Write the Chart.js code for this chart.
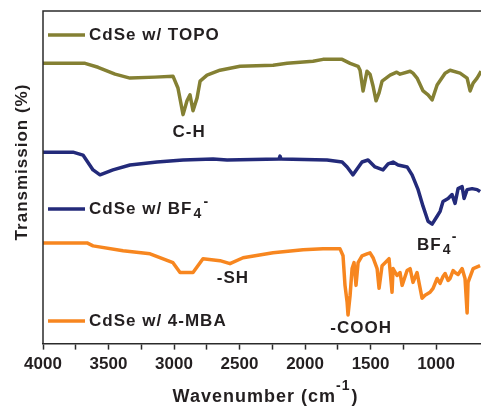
<!DOCTYPE html>
<html>
<head>
<meta charset="utf-8">
<script src="https://cdn.jsdelivr.net/npm/chart.js@4.4.1/dist/chart.umd.min.js"></script>
<style>
  html, body { margin: 0; padding: 0; background: #fff; overflow: hidden; }
  #wrap { width: 481px; height: 406px; position: relative; }
</style>
</head>
<body>
<div id="wrap"><canvas id="ftir"></canvas></div>
<script>
/* ================== DATA ================== */
// wavenumber (cm-1) and offset transmission
const topoWn = [4000, 3679, 3580, 3450, 3336, 3145, 3008, 2970, 2931, 2901, 2878, 2855, 2824, 2801, 2748, 2649, 2496, 2244, 2137, 1939, 1863, 1717, 1656, 1595, 1580, 1557, 1527, 1504, 1481, 1458, 1435, 1412, 1351, 1300, 1275, 1198, 1176, 1145, 1099, 1061, 1030, 992, 931, 893, 817, 763, 740, 717, 687, 656];
const topoT  = [284, 284, 280, 273, 269, 270, 271, 259, 232, 246, 252, 236, 249, 266, 272, 277, 281, 282, 284, 286, 288, 288, 284, 281, 277, 256, 276, 273, 261, 246, 254, 266, 272, 275, 273, 276, 274, 269, 256, 252, 247, 262, 274, 277, 274, 269, 256, 264, 269, 276];

const bf4Wn = [4000, 3771, 3695, 3618, 3565, 3466, 3336, 3130, 2931, 2702, 2595, 2199, 2191, 2183, 1832, 1717, 1679, 1634, 1603, 1565, 1519, 1466, 1405, 1366, 1328, 1290, 1221, 1183, 1137, 1099, 1061, 1030, 992, 969, 947, 908, 878, 855, 832, 801, 786, 763, 725, 687, 664];
const bf4T  = [194, 194, 191, 176, 171, 176, 181, 184, 186, 187, 186, 187, 190, 187, 186, 184, 179, 171, 177, 184, 186, 179, 176, 182, 184, 181, 179, 171, 156, 139, 124, 121, 129, 134, 144, 147, 151, 142, 157, 159, 147, 156, 157, 156, 154];

const mbaWn = [4000, 3664, 3618, 3389, 3183, 3008, 2954, 2855, 2779, 2649, 2573, 2473, 2244, 2015, 1863, 1733, 1710, 1695, 1679, 1672, 1656, 1641, 1626, 1611, 1595, 1565, 1527, 1504, 1481, 1450, 1435, 1412, 1389, 1359, 1336, 1328, 1298, 1275, 1259, 1221, 1198, 1176, 1145, 1107, 1084, 1046, 1023, 992, 969, 947, 931, 908, 893, 870, 855, 832, 801, 779, 763, 756, 717, 664];
const mbaT  = [102, 102, 99, 94, 91, 82, 72, 72, 86, 84, 81, 87, 92, 95, 96, 96, 89, 59, 42, 29, 49, 76, 82, 59, 82, 89, 91, 92, 87, 76, 56, 79, 82, 86, 52, 76, 69, 72, 59, 74, 76, 62, 72, 46, 49, 52, 56, 66, 61, 68, 71, 64, 66, 74, 72, 70, 76, 66, 31, 62, 76, 79];

const tickLabels = [4000, 3500, 3000, 2500, 2000, 1500, 1000];

const seriesNames = ["CdSe w/ TOPO", "CdSe w/ BF", "CdSe w/ 4-MBA"];
const seriesColors = ["#848033", "#232a7a", "#f7861f"];

/* ================== HELPERS ================== */
const INK = "#231f20";
const FONT = "'Liberation Sans', Arial, sans-serif";

function pts(xs, ys) {
  return xs.map((x, i) => ({ x: x, y: ys[i] }));
}

function text(ctx, str, x, y, size, align) {
  ctx.font = "bold " + size + "px " + FONT;
  ctx.textAlign = align || "left";
  ctx.textBaseline = "middle";
  ctx.fillText(str, x, y);
  return ctx.measureText(str).width;
}

/* ================== OVERLAY PLUGIN ================== */
// frame, legend samples, band labels and axis titles
const overlay = {
  id: "overlay",
  afterDraw(chart) {
    const ctx = chart.ctx;
    const a = chart.chartArea;
    const xs = chart.scales.x, ys = chart.scales.y;
    ctx.save();
    ctx.fillStyle = INK;
    ctx.strokeStyle = "#2b2b2b";
    ctx.lineWidth = 1.5;
    ctx.beginPath();
    ctx.moveTo(a.left, a.bottom);
    ctx.lineTo(a.left, a.top);
    ctx.lineTo(a.right, a.top);
    ctx.stroke();
    ctx.letterSpacing = "1px";

    // legend entries
    const legendY = [35, 209, 321];
    legendY.forEach((y, i) => {
      ctx.strokeStyle = seriesColors[i];
      ctx.lineWidth = 3.5;
      ctx.beginPath();
      ctx.moveTo(a.left + 5, y);
      ctx.lineTo(a.left + 42, y);
      ctx.stroke();
      const w = text(ctx, seriesNames[i], a.left + 46, y, 17);
      if (i === 1) {
        text(ctx, "4", a.left + 46 + w + 1, y + 5, 14);
        text(ctx, "-", a.left + 46 + w + 11, y - 7, 14);
      }
    });

    // band labels
    text(ctx, "C-H", xs.getPixelForValue(2885), ys.getPixelForValue(214), 17, "center");
    const bx = xs.getPixelForValue(1145), by = ys.getPixelForValue(100);
    const bw = text(ctx, "BF", bx, by, 17);
    text(ctx, "4", bx + bw + 1, by + 5, 14);
    text(ctx, "-", bx + bw + 10, by - 8, 14);
    text(ctx, "-SH", xs.getPixelForValue(2550), ys.getPixelForValue(66), 17, "center");
    text(ctx, "-COOH", xs.getPixelForValue(1572), ys.getPixelForValue(15), 17, "center");

    // x title with superscript
    const t1 = "Wavenumber (cm";
    ctx.font = "bold 18px " + FONT;
    const w1 = ctx.measureText(t1).width;
    ctx.font = "bold 14px " + FONT;
    const w2 = ctx.measureText("-1").width;
    ctx.font = "bold 18px " + FONT;
    const w3 = ctx.measureText(")").width;
    let x0 = 265 - (w1 + w2 + w3) / 2;
    text(ctx, t1, x0, 397, 18);
    text(ctx, "-1", x0 + w1, 386, 14);
    text(ctx, ")", x0 + w1 + w2 + 1, 397, 18);

    // y title
    ctx.translate(22, 162);
    ctx.rotate(-Math.PI / 2);
    text(ctx, "Transmission (%)", 0, 0, 17, "center");
    ctx.restore();
  }
};

/* ================== CHART ================== */
const chart = new Chart(document.getElementById("ftir"), {
  type: "line",
  data: {
    datasets: [
      { label: seriesNames[0], data: pts(topoWn, topoT), borderColor: seriesColors[0] },
      { label: seriesNames[1], data: pts(bf4Wn, bf4T), borderColor: seriesColors[1] },
      { label: seriesNames[2], data: pts(mbaWn, mbaT), borderColor: seriesColors[2] }
    ]
  },
  options: {
    responsive: true,
    maintainAspectRatio: false,
    animation: false,
    datasets: {
      line: { borderWidth: 3.5, pointRadius: 0, tension: 0, fill: false, borderJoinStyle: "round" }
    },
    layout: { padding: { left: 43, top: 11, right: 0, bottom: 26 } },
    plugins: {
      legend: { display: false },
      tooltip: { enabled: false }
    },
    scales: {
      x: {
        type: "linear",
        reverse: true,
        min: 657,
        max: 4000,
        afterBuildTicks: s => {
          s.ticks = s.ticks.filter(t => t.value % 250 === 0);
        },
        ticks: {
          stepSize: 250,
          autoSkip: false,
          maxRotation: 0,
          padding: 5,
          color: INK,
          font: { family: FONT, size: 17, weight: "bold" },
          callback: v => tickLabels.includes(v) ? String(v) : ""
        },
        grid: {
          drawOnChartArea: false,
          tickLength: 6,
          tickColor: "#2b2b2b",
          tickWidth: 1.5
        },
        border: { display: true, color: "#2b2b2b", width: 1.5 }
      },
      y: {
        display: false,
        min: 0,
        max: 337
      }
    }
  },
  plugins: [overlay]
});
</script>
</body>
</html>
